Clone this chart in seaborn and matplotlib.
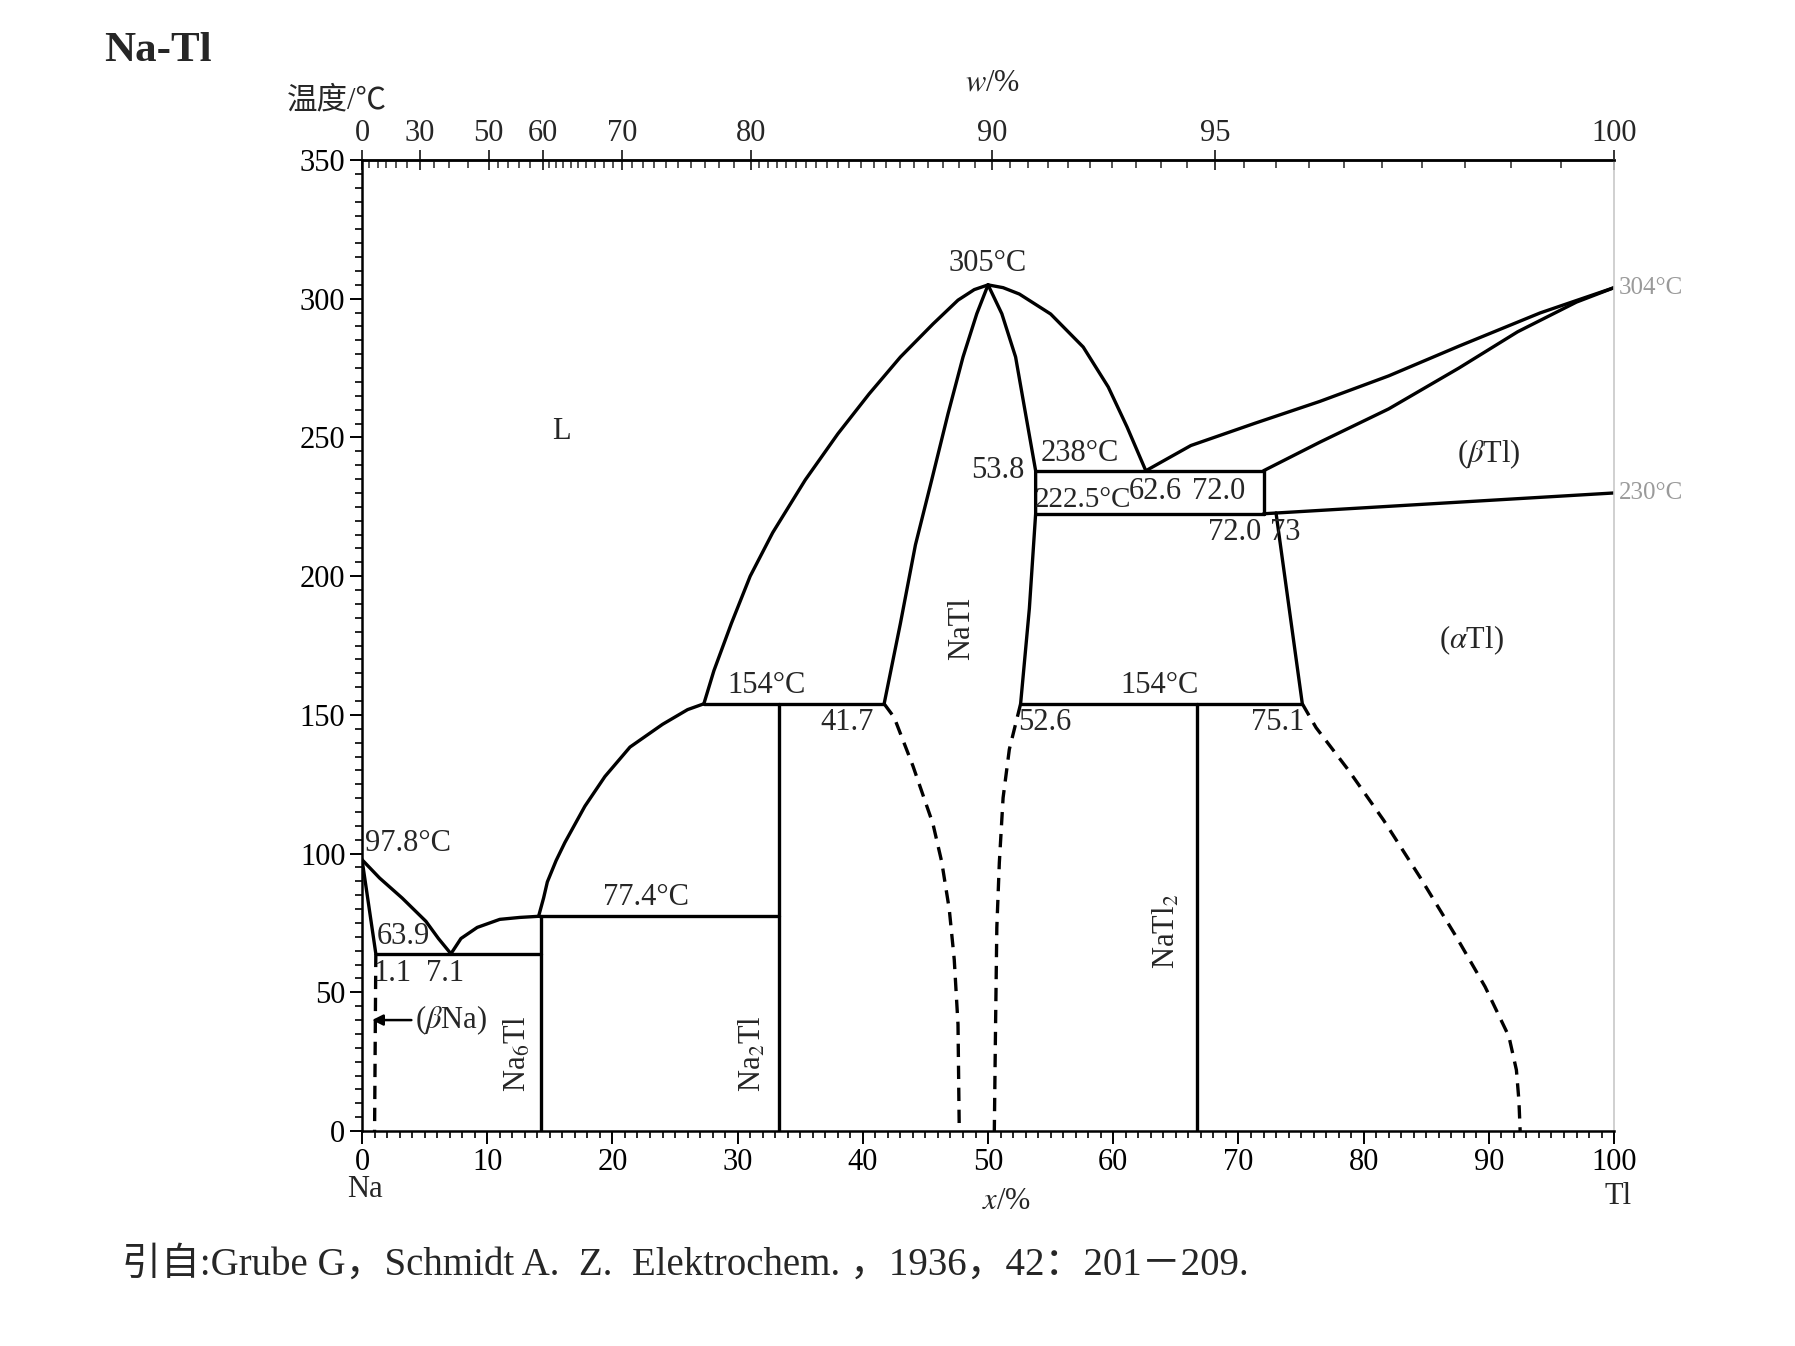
import numpy as np
import pandas as pd
import matplotlib
matplotlib.use("Agg")
import matplotlib.pyplot as plt
import seaborn as sns
from matplotlib.ticker import MultipleLocator, FixedLocator

# ---------------- data (x = mole % Tl, T = °C) ----------------
M_NA = 22.99
M_TL = 204.38

liq_na_x = [0.0, 1.4, 3.2, 5.1, 6.1, 7.1]
liq_na_t = [97.8, 91.2, 84.0, 75.6, 69.4, 63.9]
sol_bna_x = [0.0, 1.1]
sol_bna_t = [97.8, 63.9]
solvus_bna_x = [1.1, 1.0]
solvus_bna_t = [63.9, 0.0]
eut1_x = [1.1, 14.3]
eut1_t = [63.9, 63.9]
liq_a_x = [7.1, 7.9, 9.2, 11.0, 12.6, 14.1]
liq_a_t = [63.9, 69.4, 73.4, 76.3, 77.0, 77.4]
liq_b_x = [14.1, 14.5, 14.8, 15.5, 16.2, 17.8, 19.4, 21.4, 24.0, 26.0, 27.3]
liq_b_t = [77.4, 84.0, 89.8, 97.5, 104.0, 117.1, 127.8, 138.4, 146.6, 151.9, 154.0]
liq_c_x = [27.3, 28.1, 29.5, 31.0, 32.8, 35.4, 38.0, 40.5, 43.0, 45.6, 47.6, 48.9, 50.0]
liq_c_t = [154.0, 165.9, 183.0, 200.0, 215.7, 234.7, 251.3, 265.7, 279.0, 290.9, 299.5, 303.3, 305.0]
peri77_x = [14.1, 33.3]
peri77_t = [77.4, 77.4]
na6tl_x = [14.3, 14.3]
na6tl_t = [0.0, 77.4]
na2tl_x = [33.3, 33.3]
na2tl_t = [0.0, 154.0]
peri154_x = [27.3, 41.7]
peri154_t = [154.0, 154.0]

natl_sol_na_x = [41.7, 43.0, 44.2, 45.5, 46.8, 48.0, 49.1, 50.0]
natl_sol_na_t = [154.0, 183.0, 211.3, 234.7, 258.5, 279.0, 294.6, 305.0]
natl_sol_tl_x = [50.0, 51.1, 52.2, 52.9, 53.8, 53.8, 53.3, 52.6]
natl_sol_tl_t = [305.0, 294.6, 279.0, 261.0, 238.0, 222.5, 188.4, 154.0]
natl_liq_tl_x = [50.0, 51.2, 52.5, 55.0, 57.6, 59.6, 61.1, 62.6]
natl_liq_tl_t = [305.0, 304.0, 301.7, 294.5, 282.6, 268.2, 253.8, 238.0]
natl_dash_na_x = [41.7, 42.5, 44.0, 45.6, 46.3, 46.9, 47.3, 47.6, 47.7]
natl_dash_na_t = [154.0, 149.1, 131.6, 110.7, 97.0, 80.0, 61.8, 38.4, 0.0]
natl_dash_tl_x = [52.6, 52.2, 51.7, 51.2, 50.9, 50.7, 50.6, 50.5]
natl_dash_tl_t = [154.0, 146.7, 137.6, 120.1, 96.7, 73.3, 38.4, 0.0]

liq_tl_x = [62.6, 66.2, 71.3, 76.5, 82.0, 87.6, 94.1, 100.0]
liq_tl_t = [238.0, 247.1, 255.1, 263.0, 272.2, 282.9, 294.9, 304.0]
sol_tl_x = [72.0, 76.5, 82.0, 87.6, 92.3, 97.0, 100.0]
sol_tl_t = [238.0, 248.3, 260.3, 275.0, 288.1, 298.8, 304.0]
peri238_x = [53.8, 72.0]
peri238_t = [238.0, 238.0]
v72_x = [72.0, 72.0]
v72_t = [238.0, 222.5]
eut222_x = [53.8, 72.0]
eut222_t = [222.5, 222.5]
trans_tl_x = [72.0, 100.0]
trans_tl_t = [222.5, 230.0]
solvus_atl_x = [73.0, 75.1]
solvus_atl_t = [222.8, 154.0]
eut154_x = [52.6, 75.1]
eut154_t = [154.0, 154.0]
natl2_x = [66.7, 66.7]
natl2_t = [0.0, 154.0]
dash_atl_x = [75.1, 76.2, 78.8, 81.6, 84.5, 87.4, 89.7, 91.6, 92.2, 92.4, 92.5]
dash_atl_t = [154.0, 145.4, 130.0, 112.0, 91.5, 70.0, 52.0, 34.1, 22.0, 11.0, 0.0]

top_major = [0, 30, 50, 60, 70, 80, 90, 95, 100]
top_minor = (list(range(0, 50, 5)) + list(range(50, 60, 2)) + list(range(60, 80, 1))
             + list(np.arange(80, 100.01, 0.5)))

# ---------------- style ----------------
sns.set_theme(style="white")
plt.rcParams["font.family"] = ["Liberation Serif", "Noto Sans CJK SC"]
plt.rcParams["mathtext.fontset"] = "stix"

fig = plt.figure(figsize=(17.95, 13.46), dpi=100)
ax = fig.add_axes([0.2017, 0.1597, 0.6975, 0.7214])

LW = 2.4


def draw(xs, ts, dashed=False):
    sns.lineplot(x=xs, y=ts, sort=False, estimator=None, color="black",
                 lw=LW, ax=ax,
                 linestyle=(0, (4, 2.6)) if dashed else "-")


solid = [
    (liq_na_x, liq_na_t), (sol_bna_x, sol_bna_t), (eut1_x, eut1_t),
    (liq_a_x, liq_a_t), (liq_b_x, liq_b_t), (liq_c_x, liq_c_t),
    (peri77_x, peri77_t), (na6tl_x, na6tl_t), (na2tl_x, na2tl_t),
    (peri154_x, peri154_t), (natl_sol_na_x, natl_sol_na_t),
    (natl_sol_tl_x, natl_sol_tl_t), (natl_liq_tl_x, natl_liq_tl_t),
    (liq_tl_x, liq_tl_t), (sol_tl_x, sol_tl_t), (peri238_x, peri238_t),
    (v72_x, v72_t), (eut222_x, eut222_t), (trans_tl_x, trans_tl_t),
    (solvus_atl_x, solvus_atl_t), (eut154_x, eut154_t), (natl2_x, natl2_t),
]
dashed = [
    (solvus_bna_x, solvus_bna_t), (natl_dash_na_x, natl_dash_na_t),
    (natl_dash_tl_x, natl_dash_tl_t), (dash_atl_x, dash_atl_t),
]
for xs, ts in solid:
    draw(xs, ts)
for xs, ts in dashed:
    draw(xs, ts, dashed=True)

ax.set_xlim(0, 100)
ax.set_ylim(0, 350)
ax.set_xlabel("")
ax.set_ylabel("")

FS = 22
ax.xaxis.set_major_locator(MultipleLocator(10))
ax.xaxis.set_minor_locator(MultipleLocator(1))
ax.yaxis.set_major_locator(MultipleLocator(50))
ax.yaxis.set_minor_locator(MultipleLocator(5))
ax.tick_params(axis="both", which="major", direction="out", length=9, width=1.4,
               labelsize=FS, colors="black", pad=3)
ax.tick_params(axis="both", which="minor", direction="out", length=5, width=1.2,
               colors="black")
ax.tick_params(left=True, bottom=True, which="both")
for s in ["left", "bottom", "top"]:
    ax.spines[s].set_color("black")
    ax.spines[s].set_linewidth(1.8)
ax.spines["right"].set_color("#c8c8c8")
ax.spines["right"].set_linewidth(1.2)


def x_to_w(x):
    x = np.asarray(x, dtype=float)
    a = x * M_TL
    b = (100 - x) * M_NA
    return 100 * a / np.where(a + b == 0, 1, a + b)


def w_to_x(w):
    w = np.asarray(w, dtype=float)
    a = w / M_TL
    b = (100 - w) / M_NA
    return 100 * a / np.where(a + b == 0, 1, a + b)


sec = ax.secondary_xaxis("top", functions=(x_to_w, w_to_x))
sec.xaxis.set_major_locator(FixedLocator(top_major))
sec.xaxis.set_minor_locator(FixedLocator(top_minor))
sec.set_xticklabels([str(v) for v in top_major])
sec.tick_params(which="major", direction="inout", length=14, width=1.3,
                labelsize=FS, pad=2)
sec.tick_params(which="minor", direction="in", length=6, width=1.1)
sec.spines["top"].set_linewidth(1.8)

# ---------------- annotations ----------------
def t(x, y, s, **kw):
    kw.setdefault("fontsize", FS)
    ax.text(x, y, s, **kw)


t(0.2, 98.5, "97.8°C", ha="left", va="bottom")
t(1.2, 64.8, "63.9", ha="left", va="bottom")
t(0.9, 62.0, "1.1", ha="left", va="top")
t(5.1, 62.0, "7.1", ha="left", va="top")
ax.annotate(r"($\beta$Na)", xy=(0.8, 40), xytext=(4.2, 40), fontsize=FS,
            va="center", ha="left",
            arrowprops=dict(arrowstyle="-|>", color="black", lw=1.8,
                            mutation_scale=16, shrinkA=0, shrinkB=0))
t(12.4, 28, r"Na$_6$Tl", rotation=90, ha="center", va="center")
t(31.2, 28, r"Na$_2$Tl", rotation=90, ha="center", va="center")
t(64.3, 72, r"NaTl$_2$", rotation=90, ha="center", va="center")
t(47.9, 181, "NaTl", rotation=90, ha="center", va="center")
t(15.9, 252, "L", ha="center", va="center")
t(90.0, 244, r"($\beta$Tl)", ha="center", va="center")
t(88.6, 177, r"($\alpha$Tl)", ha="center", va="center")
t(22.7, 78.8, "77.4°C", ha="center", va="bottom")
t(32.3, 155.3, "154°C", ha="center", va="bottom")
t(36.6, 152.5, "41.7", ha="left", va="top")
t(50.0, 307.5, "305°C", ha="center", va="bottom")
t(52.9, 238.0, "53.8", ha="right", va="center")
t(54.2, 239.0, "238°C", ha="left", va="bottom")
t(53.7, 222.8, "222.5°C", fontsize=21, ha="left", va="bottom")
t(61.2, 230.5, "62.6", ha="left", va="center")
t(66.3, 230.5, "72.0", ha="left", va="center")
t(67.6, 221.0, "72.0", ha="left", va="top")
t(72.5, 221.0, "73", ha="left", va="top")
t(63.7, 155.3, "154°C", ha="center", va="bottom")
t(52.4, 152.5, "52.6", ha="left", va="top")
t(71.0, 152.5, "75.1", ha="left", va="top")
t(100.4, 304, "304°C", ha="left", va="center", color="#9a9a9a", fontsize=18)
t(100.4, 230, "230°C", ha="left", va="center", color="#9a9a9a", fontsize=18)

# axis captions
ax.text(0.002, -0.045, "Na", transform=ax.transAxes, ha="center", va="top", fontsize=FS)
ax.text(1.003, -0.052, "Tl", transform=ax.transAxes, ha="center", va="top", fontsize=FS)
ax.text(0.515, -0.058, r"$x$/%", transform=ax.transAxes, ha="center", va="top", fontsize=FS)
fig.text(0.553, 0.938, r"$w$/%", ha="center", va="center", fontsize=FS)
fig.text(0.160, 0.925, "温度/℃", ha="left", va="center", fontsize=FS)
fig.text(0.058, 0.962, "Na-Tl", ha="left", va="center", fontsize=31, fontweight="bold")
fig.text(0.068, 0.060, "引自:Grube G，Schmidt A.  Z.  Elektrochem. ，1936，42：201－209.",
         ha="left", va="center", fontsize=28)

fig.savefig("out.png", dpi=100, facecolor="white")
